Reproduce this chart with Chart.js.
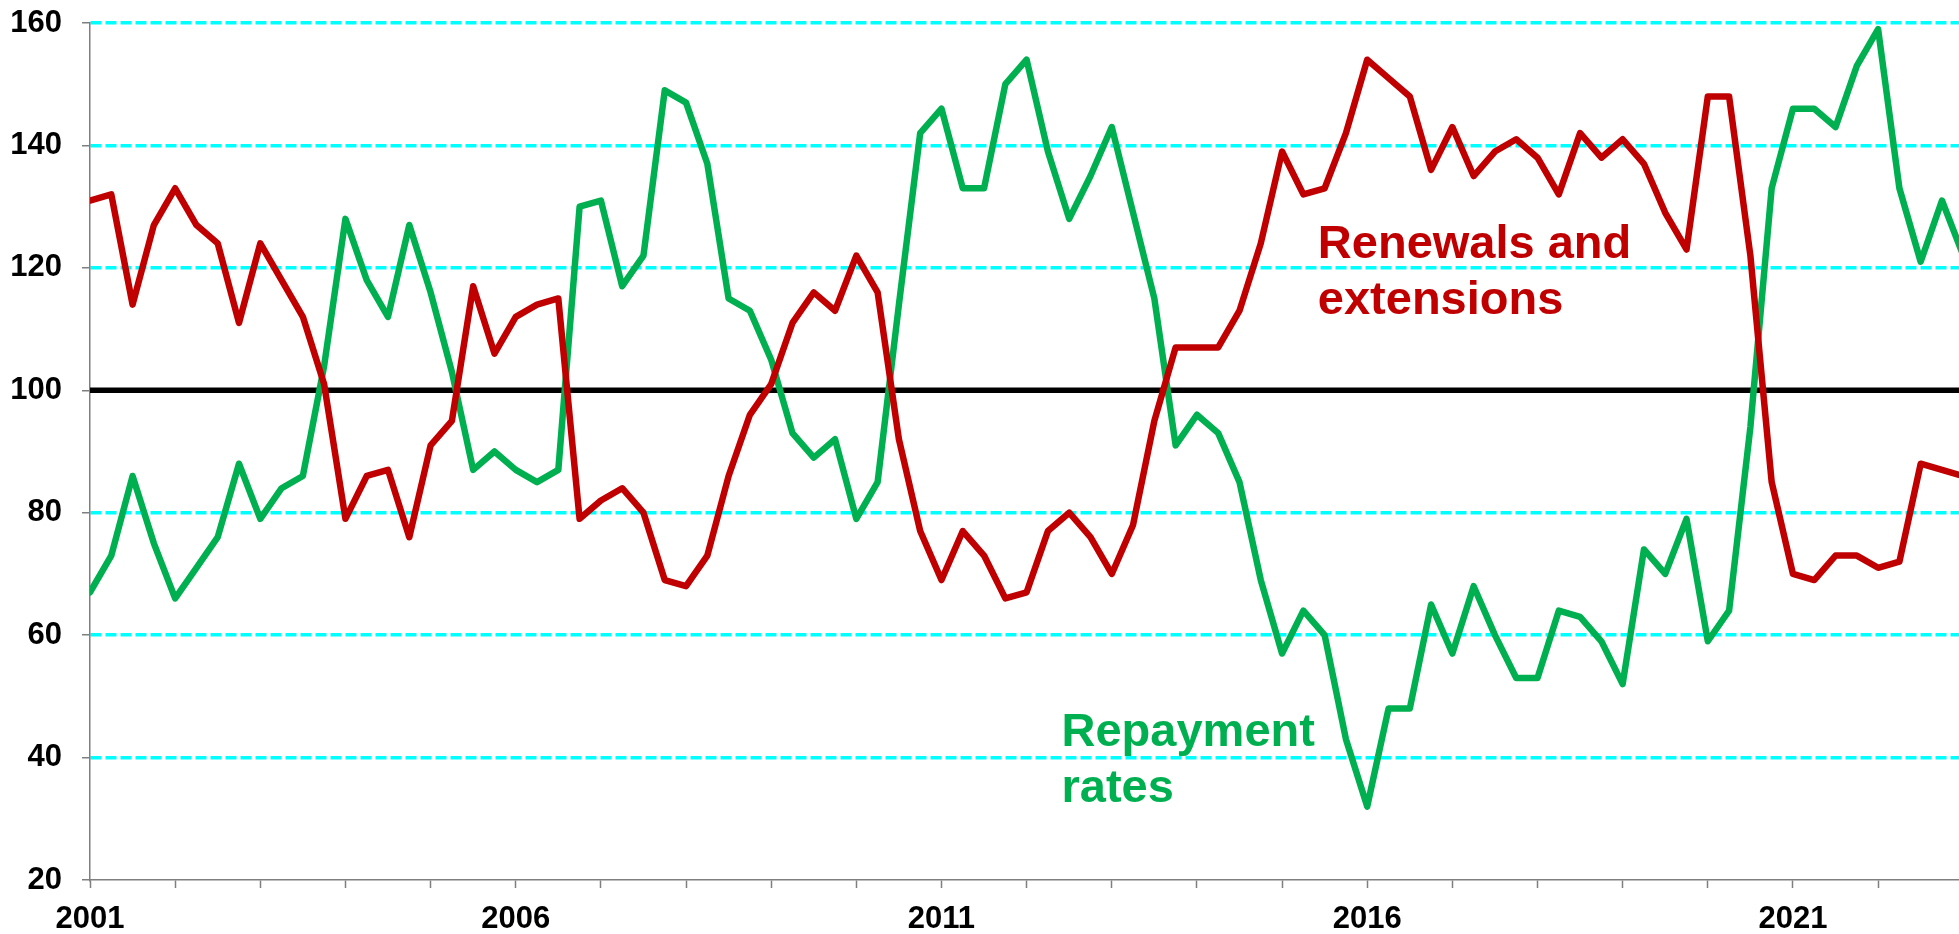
<!DOCTYPE html>
<html>
<head>
<meta charset="utf-8">
<script src="https://cdn.jsdelivr.net/npm/chart.js@4.4.0/dist/chart.umd.min.js"></script>
<style>
  html, body { margin: 0; padding: 0; background: #fff; }
  #wrap { width: 1959px; height: 934px; position: relative; }
</style>
</head>
<body>
<div id="wrap"><canvas id="myChart"></canvas></div>
<script>
// quarterly, starting 2001 Q1
const startYear = 2001;

const renewals = [131, 132, 114, 127, 133, 127, 124, 111, 124, 118, 112, 101,
  79, 86, 87, 76, 91, 95, 117, 106, 112, 114, 115, 79,
  82, 84, 80, 69, 68, 73, 86, 96, 101, 111, 116, 113,
  122, 116, 92, 77, 69, 77, 73, 66, 67, 77, 80, 76,
  70, 78, 95, 107, 107, 107, 113, 124, 139, 132, 133, 142,
  154, 151, 148, 136, 143, 135, 139, 141, 138, 132, 142, 138,
  141, 137, 129, 123, 148, 148, 122, 85, 70, 69, 73, 73,
  71, 72, 88, 87, 86];

const repayment = [67, 73, 86, 75, 66, 71, 76, 88, 79, 84, 86, 104,
  128, 118, 112, 127, 116, 103, 87, 90, 87, 85, 87, 130,
  131, 117, 122, 149, 147, 137, 115, 113, 105, 93, 89, 92,
  79, 85, 114, 142, 146, 133, 133, 150, 154, 139, 128, 135,
  143, 129, 115, 91, 96, 93, 85, 69, 57, 64, 60, 43,
  32, 48, 48, 65, 57, 68, 60, 53, 53, 64, 63, 59,
  52, 74, 70, 79, 59, 64, 94, 133, 146, 146, 143, 153,
  159, 133, 121, 131, 122];

const baseline = 100;
const yearLabels = [2001, 2006, 2011, 2016, 2021];
const yMin = 20, yMax = 160, yStep = 20;
const xMax = 2022.95;

const quarters = renewals.map((v, i) => startYear + i / 4);
const toPoints = (arr) => arr.map((v, i) => ({x: quarters[i], y: v}));

const FONT = '"Liberation Sans", Arial, sans-serif';
const RED = '#C00000';
const GREEN = '#00B050';

// text labels next to the lines
const notes = [
  {lines: ['Renewals and', 'extensions'], x: 2015.42, y: 121.6, color: RED},
  {lines: ['Repayment', 'rates'], x: 2012.41, y: 41.9, color: GREEN}
];

const notesPlugin = {
  id: 'notes',
  afterDatasetsDraw(chart) {
    const {ctx} = chart;
    const xs = chart.scales.x, ys = chart.scales.y;
    ctx.save();
    ctx.font = 'bold 47px ' + FONT;
    ctx.textBaseline = 'alphabetic';
    ctx.textAlign = 'left';
    notes.forEach(function(n) {
      ctx.fillStyle = n.color;
      n.lines.forEach(function(line, j) {
        ctx.fillText(line, xs.getPixelForValue(n.x), ys.getPixelForValue(n.y) + j * 56);
      });
    });
    ctx.restore();
  }
};

const ctx = document.getElementById('myChart');

new Chart(ctx, {
  type: 'line',
  data: {
    datasets: [{
      label: 'Renewals and extensions',
      data: toPoints(renewals),
      borderColor: RED,
      borderWidth: 6.5,
      pointRadius: 0,
      tension: 0,
      borderJoinStyle: 'round',
      borderCapStyle: 'round'
    }, {
      label: 'Repayment rates',
      data: toPoints(repayment),
      borderColor: GREEN,
      borderWidth: 6.5,
      pointRadius: 0,
      tension: 0,
      borderJoinStyle: 'round',
      borderCapStyle: 'round'
    }, {
      label: 'base',
      data: [{x: startYear, y: baseline}, {x: xMax, y: baseline}],
      borderColor: '#000000',
      borderWidth: 5.5,
      pointRadius: 0
    }]
  },
  options: {
    responsive: true,
    maintainAspectRatio: false,
    animation: false,
    layout: { padding: { top: 23, left: 0, right: 0, bottom: 0 } },
    plugins: {
      legend: { display: false },
      tooltip: { enabled: false }
    },
    scales: {
      x: {
        type: 'linear',
        min: startYear,
        max: xMax,
        afterFit: function(scale) {
          scale.height = 54;
          scale.paddingLeft = 0;
          scale.paddingRight = 0;
        },
        grid: {
          drawOnChartArea: false,
          tickLength: 8,
          tickColor: '#7f7f7f',
          tickWidth: 1.5
        },
        border: { color: '#7f7f7f', width: 1.5 },
        ticks: {
          stepSize: 1,
          autoSkip: false,
          includeBounds: false,
          maxRotation: 0,
          padding: 13,
          color: '#000',
          font: { family: FONT, size: 31, weight: 'bold' },
          callback: function(value) {
            return yearLabels.includes(value) ? String(value) : '';
          }
        }
      },
      y: {
        min: yMin,
        max: yMax,
        afterFit: function(scale) {
          scale.width = 90;
          scale.paddingTop = 0;
          scale.paddingBottom = 0;
        },
        grid: {
          color: function(c) {
            const v = c.tick && c.tick.value;
            return (v === yMin || v === baseline) ? 'rgba(0,0,0,0)' : '#00FFFF';
          },
          lineWidth: 3.5,
          tickLength: 8,
          tickColor: '#7f7f7f',
          tickWidth: 1.5
        },
        border: { color: '#7f7f7f', width: 1.5, dash: [11, 4] },
        ticks: {
          stepSize: yStep,
          padding: 20,
          color: '#000',
          font: { family: FONT, size: 31, weight: 'bold' }
        }
      }
    }
  },
  plugins: [notesPlugin]
});
</script>
</body>
</html>
